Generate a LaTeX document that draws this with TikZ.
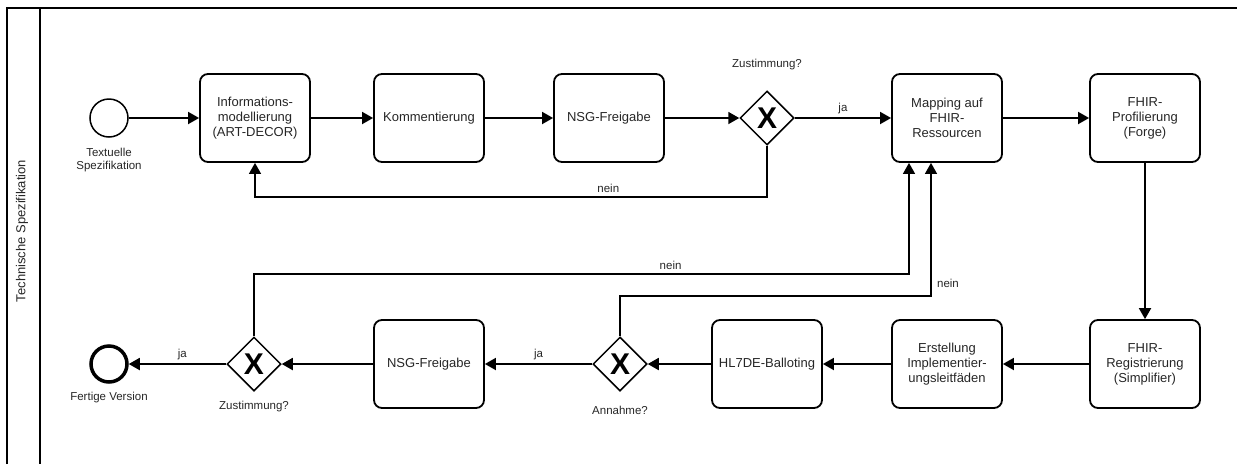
\documentclass[tikz,border=0pt]{standalone}
\usepackage{fontspec}
\setmainfont{Liberation Sans}
\usetikzlibrary{arrows.meta,shapes.geometric}
\begin{document}
\begin{tikzpicture}[x=1pt,y=-1pt,
  task/.style={draw,line width=1.8pt,rounded corners=8pt,minimum width=110pt,minimum height=88pt,inner sep=2pt,align=center,font=\fontsize{13pt}{15pt}\selectfont,text=black!85},
  gate/.style={draw,diamond,aspect=1,line width=1.5pt,minimum width=54pt,minimum height=54pt,inner sep=0pt,font=\fontsize{30pt}{30pt}\selectfont\bfseries},
  startev/.style={draw,circle,line width=1.5pt,minimum size=38pt,inner sep=0pt},
  endev/.style={draw,circle,line width=3.5pt,minimum size=36pt,inner sep=0pt},
  lbl/.style={font=\fontsize{11.5pt}{13.5pt}\selectfont,text=black!85,align=center,inner sep=1pt},
  flow/.style={line width=1.8pt,-{Triangle[length=11pt,width=12pt]}},
  loopflow/.style={line width=1.3pt,-{Triangle[length=11pt,width=12pt]}},
  plain/.style={line width=1.8pt}
]
\useasboundingbox (0,0) rectangle (1237,464);
% pool frame
\draw[line width=1.8pt] (7,464) -- (7,8) -- (1237,8);
\draw[line width=1.8pt] (40,8) -- (40,464);
\node[lbl,rotate=90,font=\fontsize{13pt}{15pt}\selectfont] (pool) at (22,231) {Technische Spezifikation};

% top row
\node[startev] (start) at (109,118) {};
\node[lbl] (startl) at (109,160) {Textuelle\\Spezifikation};
\node[task] (info) at (255,118) {Informations-\\modellierung\\(ART-DECOR)};
\node[task] (komm) at (429,118) {Kommentierung};
\node[task] (nsga) at (609,118) {NSG-Freigabe};
\node[gate] (gwa) at (767,118) {X};
\node[lbl] (gwal) at (767,65) {Zustimmung?};
\node[task] (map) at (947,118) {Mapping auf\\FHIR-\\Ressourcen};
\node[task] (prof) at (1145,118) {FHIR-\\Profilierung\\(Forge)};

% bottom row
\node[task] (reg) at (1145,364) {FHIR-\\Registrierung\\(Simplifier)};
\node[task] (erst) at (947,364) {Erstellung\\Implementier-\\ungsleitfäden};
\node[task] (hl7) at (767,364) {HL7DE-Balloting};
\node[gate] (gwb) at (620,364) {X};
\node[lbl] (gwbl) at (620,410) {Annahme?};
\node[task] (nsgb) at (429,364) {NSG-Freigabe};
\node[gate] (gwc) at (254,364) {X};
\node[lbl] (gwcl) at (254,407) {Zustimmung?};
\node[endev] (end) at (109,364) {};
\node[lbl] (endl) at (109,398) {Fertige Version};

% helper coordinates
\coordinate (ca1) at (767,197);
\coordinate (ca2) at (255,197);
\coordinate (cc1) at (254,274);
\coordinate (cc2) at (909,274);
\coordinate (cb1) at (620,296);
\coordinate (cb2) at (931,296);

% flows
\draw[flow] (start) -- (info);
\draw[flow] (info) -- (komm);
\draw[flow] (komm) -- (nsga);
\draw[flow] (nsga) -- (gwa.west);
\draw[flow] (gwa.east) -- node[lbl,above=2pt] (ja1) {ja} (map);
\draw[loopflow] (gwa.south) -- (ca1) -- node[lbl,above=3pt,pos=0.31] (nein1) {nein} (ca2) -- (info.south);
\draw[flow] (map) -- (prof);
\draw[flow] (prof) -- (reg);
\draw[flow] (reg) -- (erst);
\draw[flow] (erst) -- (hl7);
\draw[flow] (hl7) -- (gwb.east);
\draw[flow] (gwb.west) -- node[lbl,above=2pt] (ja2) {ja} (nsgb);
\draw[flow] (nsgb) -- (gwc.east);
\draw[flow] (gwc.west) -- node[lbl,above=2pt,pos=0.45] (ja3) {ja} (end);
\draw[loopflow] (gwc.north) -- (cc1) -- node[lbl,above=3pt,pos=0.636] (nein2) {nein} (cc2) -- (cc2 |- map.south);
\draw[loopflow] (gwb.north) -- (cb1) -- (cb2) -- (cb2 |- map.south);
\node[lbl] (nein3) at (948,283) {nein};
\end{tikzpicture}
\end{document}
